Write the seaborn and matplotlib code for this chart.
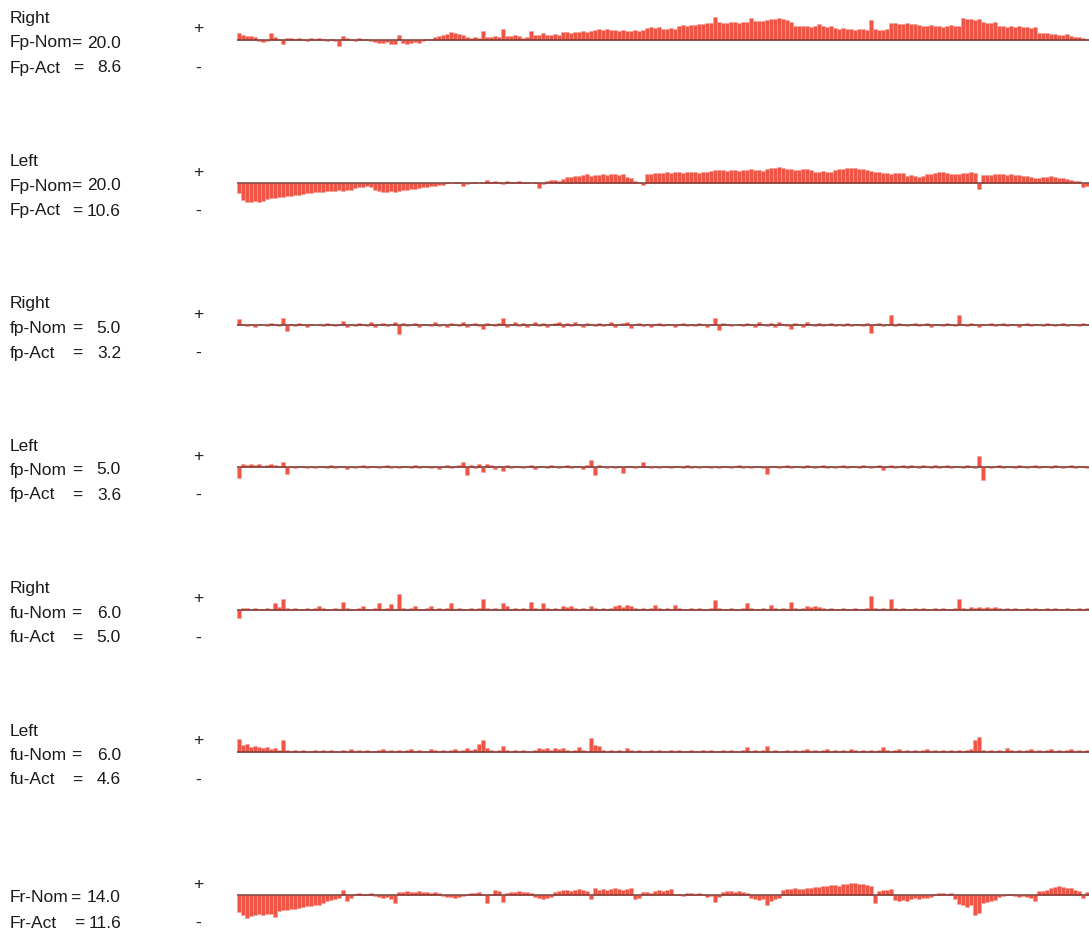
import numpy as np
import matplotlib
matplotlib.use("Agg")
import matplotlib.pyplot as plt
import seaborn as sns

# bar heights per channel (one bar per sample)
fp_right_big = [7, 5, 4, 4, 3, -1, -2, -1, 7, 3, 1, -4, 2, 2, 1, 2, 1, -1, 2, 1, 2, 1, -1, 1, -1, -6, 4, 2, 1, -1,
                2, 1, 1, -1, -2, -3, -3, -2, -4, -4, 5, -3, -4, -3, -2, -3, -1, 1, 1, 3, 4, 5, 6, 8, 7, 6, 5, 3, 2, 3,
                2, 9, 3, 3, 4, 3, 11, 4, 4, 5, 4, 2, 3, 9, 5, 5, 7, 5, 5, 6, 5, 8, 8, 7, 8, 8, 9, 8, 9, 10,
                11, 10, 11, 10, 10, 9, 10, 9, 9, 10, 9, 10, 12, 13, 12, 13, 11, 11, 12, 11, 14, 15, 14, 15, 15, 16, 16, 17, 17, 23,
                18, 17, 17, 18, 18, 17, 18, 18, 22, 19, 19, 19, 20, 21, 21, 22, 21, 20, 18, 14, 14, 14, 14, 13, 14, 16, 14, 13, 14, 12,
                11, 12, 11, 11, 10, 11, 11, 10, 20, 11, 10, 10, 11, 17, 17, 16, 16, 17, 16, 16, 15, 14, 14, 15, 14, 14, 13, 14, 15, 14,
                14, 22, 21, 21, 20, 21, 18, 17, 17, 18, 14, 14, 13, 14, 13, 14, 13, 13, 12, 13, 7, 7, 7, 6, 6, 5, 5, 6, 4, 3,
                3, 2, 1]
fp_left_big = [-10, -17, -19, -19, -18, -19, -18, -16, -15, -15, -14, -14, -13, -13, -12, -12, -11, -10, -10, -9,
               -9, -9, -8, -8, -8, -7, -8, -7, -7, -5, -4, -4, -3, -4, -7, -8, -9, -9, -8, -9,
               -8, -7, -7, -6, -6, -5, -4, -4, -3, -3, -2, -2, 1, 0, 1, 1, -3, -1, 1, 1,
               0, 1, 3, 1, 2, 1, -1, 2, 1, 1, 2, 1, 1, 0, 1, -5, -1, 2, 3, 3,
               2, 4, 6, 6, 7, 7, 8, 9, 7, 8, 8, 9, 8, 9, 9, 8, 9, 6, 5, 2,
               1, -2, 9, 9, 10, 10, 10, 11, 10, 11, 11, 10, 11, 11, 11, 10, 11, 11, 12, 13,
               13, 13, 12, 13, 13, 12, 13, 13, 14, 13, 13, 12, 14, 15, 15, 16, 15, 14, 14, 13,
               13, 14, 14, 13, 11, 11, 12, 11, 11, 13, 14, 14, 15, 15, 15, 14, 14, 13, 12, 11,
               11, 10, 10, 9, 10, 10, 10, 7, 8, 7, 6, 7, 9, 9, 10, 11, 11, 10, 9, 9,
               9, 10, 10, 11, 10, -6, 8, 8, 8, 9, 9, 9, 8, 9, 8, 8, 7, 7, 6, 5,
               5, 6, 6, 7, 6, 5, 5, 4, 3, 2, 2, -4, -3]
fp_right = [6, 1, -1, 1, -2, 1, 0, -1, 2, 1, -1, 7, -6, 1, -1, 2, 1, -2, 1, 0,
            1, -1, 2, 1, -1, 1, 4, -2, 1, -1, 2, 1, -1, 3, -2, 1, 2, -1, 1, 3,
            -9, 2, -1, 1, 2, -2, 1, 1, -1, 3, -1, 1, -2, 2, 1, -1, 3, -2, 1, 2,
            -1, -4, 2, 1, -1, 2, 7, -2, 1, 3, -1, 2, -2, 1, 3, -1, 2, -2, 1, 2,
            3, -2, 2, -1, 3, 1, -2, 2, 1, -1, 2, -1, 1, 3, -2, 1, 2, 3, -3, 1,
            2, -1, 1, -2, 1, 2, -1, 1, 1, -2, 1, 2, -1, 1, -1, 2, 1, -2, 1, 7,
            -5, 2, 1, -1, 0, 1, -1, 2, 1, -2, 3, 1, -1, 2, -2, 3, 1, -1, -4, 2,
            1, -2, 3, 1, -1, 2, -1, 1, 2, -1, 1, -1, 2, -1, 1, 1, -1, 2, -8, 1,
            2, -1, 1, 10, -1, 2, 1, -1, 1, 2, -1, 1, 2, -2, 1, 1, -1, 2, 1, -1,
            10, 1, -1, 2, 1, -2, 1, 1, 2, -1, 1, 2, -1, 1, 1, -2, 1, 2, -1, 1,
            1, -1, 2, 1, -1, 1, 2, -1, 1, 1, -1, 2, 1]
fp_left = [-11, 3, 2, 3, 2, 3, 1, 2, 3, 2, 1, 5, -7, 1, -1, 1, 1, -1, 1, -1,
           1, 1, -1, 2, -1, 1, 1, -2, 1, -1, 1, 2, -1, 1, 1, -1, 1, 2, -1, 1,
           -1, 1, 1, -1, 2, -1, 1, 1, -1, 1, -2, 1, 2, -1, 1, 2, 5, -8, 2, -1,
           3, -5, 3, 2, -2, 1, -4, 2, -1, 1, 1, -1, 1, 2, -2, 1, 1, -1, 2, 1,
           -1, 1, 2, -1, 1, 1, -2, 2, 7, -8, 2, 1, -1, 1, -1, 1, -6, 1, 1, -1,
           1, 5, 1, -1, 1, -1, 1, 1, -1, 1, 1, -1, 2, -1, 1, -1, 1, 1, -1, 1,
           -1, 1, 1, -1, 1, 2, -1, 1, -1, 1, 1, -1, -7, 1, 1, -1, 1, 2, -1, 1,
           1, -1, 2, 1, -1, 1, 2, -1, 1, -1, 1, 2, -1, 1, 1, -1, 2, 1, -1, 1,
           2, -3, 1, 2, -1, 1, 2, -1, 2, 1, -1, 2, 1, -1, 2, -1, 1, 2, -1, 1,
           1, -1, 2, 1, -1, 11, -13, 1, -1, 1, 2, -1, 1, 1, -1, 2, 1, -1, 1, 2,
           -1, 1, 1, -1, 2, 1, -1, 1, 2, -1, 1, 1, -1]
fu_right = [-8, 2, 2, 1, 2, 1, 1, 2, 1, 7, 3, 11, 2, 1, 2, 1, 1, 2, 1, 2,
            4, 2, 1, 1, 2, 1, 8, 2, 1, 1, 2, 4, 1, 1, 2, 7, 1, 2, 6, 1,
            16, 2, 1, 2, 4, 1, 1, 2, 4, 1, 2, 1, 2, 7, 1, 2, 1, 1, 2, 1,
            2, 11, 2, 1, 2, 1, 7, 4, 1, 2, 1, 2, 1, 8, 2, 1, 7, 2, 1, 2,
            1, 4, 3, 4, 2, 1, 2, 1, 4, 2, 1, 2, 1, 2, 4, 5, 3, 5, 4, 2,
            1, 2, 1, 2, 5, 2, 1, 2, 1, 5, 2, 1, 1, 2, 1, 2, 1, 1, 2, 10,
            2, 1, 1, 2, 1, 1, 2, 7, 2, 1, 1, 2, 1, 5, 2, 1, 2, 1, 8, 2,
            1, 2, 4, 3, 4, 3, 2, 1, 2, 1, 1, 2, 1, 1, 2, 1, 1, 2, 14, 2,
            1, 2, 1, 11, 2, 1, 2, 1, 1, 2, 1, 2, 1, 1, 2, 1, 2, 1, 1, 2,
            11, 2, 1, 3, 2, 3, 2, 3, 2, 3, 2, 1, 2, 1, 2, 1, 1, 2, 1, 2,
            1, 1, 2, 1, 2, 1, 1, 2, 1, 1, 2, 1, 2]
fu_left = [13, 7, 8, 5, 6, 5, 4, 5, 3, 4, 2, 12, 2, 1, 2, 1, 2, 1, 1, 2,
           1, 2, 1, 2, 1, 1, 2, 1, 3, 1, 2, 1, 2, 1, 1, 2, 3, 1, 2, 1,
           2, 1, 2, 3, 1, 2, 1, 1, 3, 2, 1, 2, 1, 2, 3, 1, 2, 4, 2, 3,
           8, 12, 4, 2, 1, 2, 6, 2, 1, 2, 1, 2, 1, 1, 2, 4, 3, 4, 2, 4,
           3, 4, 2, 1, 2, 5, 2, 1, 14, 7, 6, 2, 1, 2, 1, 2, 1, 4, 2, 1,
           2, 1, 1, 2, 1, 2, 1, 1, 2, 1, 2, 1, 1, 2, 1, 1, 2, 1, 2, 1,
           1, 2, 1, 2, 1, 1, 2, 5, 1, 2, 1, 2, 6, 1, 2, 1, 1, 2, 1, 2,
           1, 2, 3, 1, 2, 1, 2, 3, 1, 2, 1, 2, 1, 3, 2, 1, 2, 1, 2, 1,
           2, 5, 2, 1, 2, 3, 1, 2, 1, 2, 1, 2, 3, 1, 2, 1, 2, 1, 2, 1,
           2, 1, 2, 3, 12, 15, 2, 1, 2, 1, 2, 1, 4, 2, 1, 2, 1, 2, 3, 1,
           2, 1, 2, 3, 1, 2, 1, 2, 3, 1, 2, 1, 2]
fr = [-17, -20, -23, -21, -20, -19, -20, -19, -19, -22, -16, -15, -15, -14, -14, -13, -12, -11, -11, -10,
      -10, -8, -6, -5, -4, -3, 5, -6, -3, 1, 2, 1, 1, 2, -1, -2, -3, -2, -4, -8,
      3, 3, 4, 3, 3, 4, 3, 3, 2, 3, 2, -1, -2, -2, -3, -2, -1, 1, 2, 2,
      3, 1, -8, 1, 5, 4, -7, 2, 3, 3, 4, 3, 3, 2, -2, -3, -4, -3, -2, 3,
      4, 5, 5, 4, 5, 6, 5, 4, -4, 7, 5, 6, 5, 6, 7, 6, 5, 6, 7, -4,
      -3, 3, 3, 2, 4, 5, 4, 5, 6, 1, 1, -1, 2, 2, 1, 2, 1, -2, -1, -7,
      -2, 3, 4, 4, 3, 4, 3, 2, -3, -4, -5, -4, -10, -6, -4, -3, 5, 6, 6, 7,
      6, 6, 7, 7, 8, 8, 9, 9, 10, 10, 9, 11, 11, 12, 12, 11, 11, 10, 9, -8,
      4, 5, 5, 6, -5, -6, -5, -6, -4, -3, -4, -3, -3, -2, 1, 2, 2, 1, 2, -4,
      -9, -10, -12, -10, -20, -18, -8, -7, -6, -5, -2, -1, 1, 1, -1, -2, -1, -2, -3, -6,
      4, 4, 5, 7, 8, 9, 8, 7, 7, 5, 4, -3, 3]

channels = [fp_right_big, fp_left_big, fp_right, fp_left, fu_right, fu_left, fr]
sides = ["Right", "Left", "Right", "Left", "Right", "Left", ""]
nom_names = ["Fp-Nom", "Fp-Nom", "fp-Nom", "fp-Nom", "fu-Nom", "fu-Nom", "Fr-Nom"]
act_names = ["Fp-Act", "Fp-Act", "fp-Act", "fp-Act", "fu-Act", "fu-Act", "Fr-Act"]
nom_vals = ["20.0", "20.0", "5.0", "5.0", "6.0", "6.0", "14.0"]
act_vals = ["8.6", "10.6", "3.2", "3.6", "5.0", "4.6", "11.6"]
# x position (px) of the "=" sign on each text line
nom_eq_x = [71, 71, 72, 72, 71, 71, 70]
act_eq_x = [73, 72, 72, 72, 72, 72, 74]

W, H = 1089, 931
baselines = [40, 183, 325, 467, 610, 752, 895]

sns.set_theme(style="white")
plt.rcParams["font.family"] = ["Liberation Sans", "DejaVu Sans"]

fig = plt.figure(figsize=(W / 100, H / 100), dpi=100)
fig.patch.set_facecolor("white")


def fx(x):
    return x / W


def fy(y):
    return 1 - y / H


bar_face = "#ef5444"
bar_edge = "#f8a094"
ink = "#1a1a1a"
fs = 12.5

for k, vals in enumerate(channels):
    base = baselines[k]
    ax = fig.add_axes([fx(237), fy(base + 26), fx(1089) - fx(237), 52 / H])
    idx = np.arange(len(vals))
    sns.barplot(x=idx, y=vals, ax=ax, color=bar_face, saturation=1, width=1.0,
                edgecolor=bar_edge, linewidth=0.4)
    ax.axhline(0, color="#7d3a34", lw=1.1)
    ax.set_xlim(-0.5, len(vals) - 0.5)
    ax.set_ylim(-26, 26)
    ax.axis("off")

    if sides[k]:
        fig.text(fx(10), fy(base - 21), sides[k], fontsize=fs, va="center", ha="left", color=ink)
    fig.text(fx(10), fy(base + 3), nom_names[k], fontsize=fs, va="center", ha="left", color=ink)
    fig.text(fx(nom_eq_x[k]), fy(base + 3), "=", fontsize=fs, va="center", ha="left", color=ink,
             bbox=dict(facecolor="white", edgecolor="none", pad=0.3))
    fig.text(fx(121), fy(base + 3), nom_vals[k], fontsize=fs, va="center", ha="right", color=ink)
    fig.text(fx(10), fy(base + 28), act_names[k], fontsize=fs, va="center", ha="left", color=ink)
    fig.text(fx(act_eq_x[k]), fy(base + 28), "=", fontsize=fs, va="center", ha="left", color=ink)
    fig.text(fx(121), fy(base + 28), act_vals[k], fontsize=fs, va="center", ha="right", color=ink)
    fig.text(fx(198), fy(base - 11), "+", fontsize=fs, va="center", ha="center", color=ink)
    fig.text(fx(198), fy(base + 28), "-", fontsize=fs, va="center", ha="center", color=ink)

fig.savefig("out.png", dpi=100, facecolor="white")
